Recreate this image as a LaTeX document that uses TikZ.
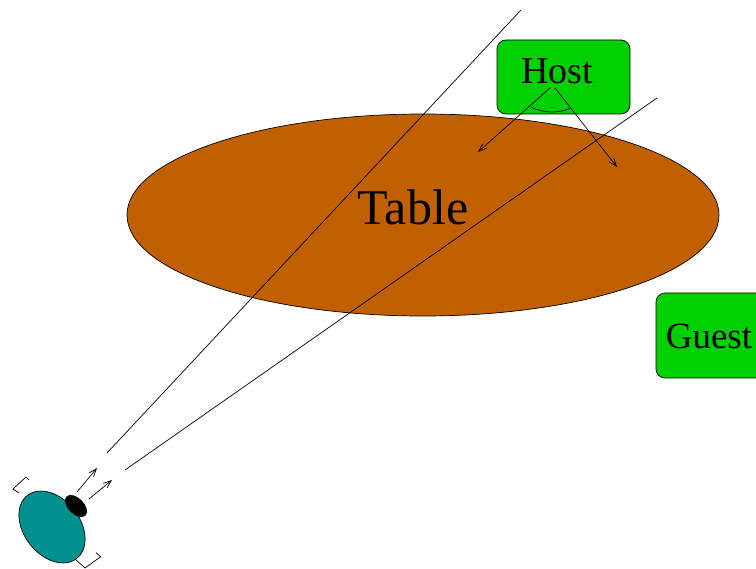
\documentclass[tikz,border=0pt]{standalone}
\usepackage{fontspec}
\setmainfont{Liberation Serif}
\usetikzlibrary{arrows.meta}
\definecolor{tablebrown}{RGB}{192,96,0}
\definecolor{boxgreen}{RGB}{0,208,0}
\definecolor{headteal}{RGB}{0,144,144}

\begin{document}
\begin{tikzpicture}[x=1pt,y=1pt, line width=0.7pt,
  tagbox/.style={draw, fill=boxgreen, rounded corners=9pt},
  sight/.style={line width=0.7pt},
  look/.style={line width=0.7pt,-{Straight Barb[length=8pt,width=6pt]}},
  label/.style={inner sep=0pt}
 ]
\clip (0,0) rectangle (756,-569);
\fill[white] (0,0) rectangle (756,-569);

% the table
\draw[fill=tablebrown] (423,-215) ellipse [x radius=296, y radius=101];
\node[label, font=\fontsize{50}{52}\selectfont] (table) at (413,-207) {Table};

% field of view of the guest
\coordinate (fovAs) at (107,-453);
\coordinate (fovAe) at (521,-10);
\coordinate (fovBs) at (125,-470);
\coordinate (fovBe) at (657,-98);
\draw[sight] (fovAs) -- (fovAe);
\draw[sight] (fovBs) -- (fovBe);

% host
\draw[tagbox] (497,-40) rectangle (630,-114);
\node[label, font=\fontsize{38}{40}\selectfont] (host) at (557,-71) {Host};
\coordinate (hostL) at (550,-88);
\coordinate (hostR) at (555,-88);
\coordinate (hostAimL) at (478,-152);
\coordinate (hostAimR) at (617,-167);
\draw[look] (hostL) -- (hostAimL);
\draw[look] (hostR) -- (hostAimR);
\draw (531,-107) .. controls (545,-114) and (560,-113) .. (571,-108);

% guest
\draw[tagbox] (656,-293) rectangle (790,-378);
\node[label, font=\fontsize{37}{39}\selectfont] (guest) at (709,-336) {Guest};

% viewer's head seen from above
\draw[fill=headteal, rotate around={-52:(52,-527)}] (52,-527) ellipse [x radius=40, y radius=28];
\draw[fill=black, rotate around={-45:(76,-506)}] (76,-506) ellipse [x radius=13, y radius=7.5];
\draw (29,-480) -- (26,-477) -- (13,-489) -- (19,-493);
\draw (75,-559) -- (85,-568) -- (100.7,-556.7) -- (96,-552.7);
\coordinate (eyeA) at (77,-492);
\coordinate (eyeAt) at (97,-468);
\coordinate (eyeB) at (89,-499);
\coordinate (eyeBt) at (112,-480);
\draw[look] (eyeA) -- (eyeAt);
\draw[look] (eyeB) -- (eyeBt);
\end{tikzpicture}
\end{document}
